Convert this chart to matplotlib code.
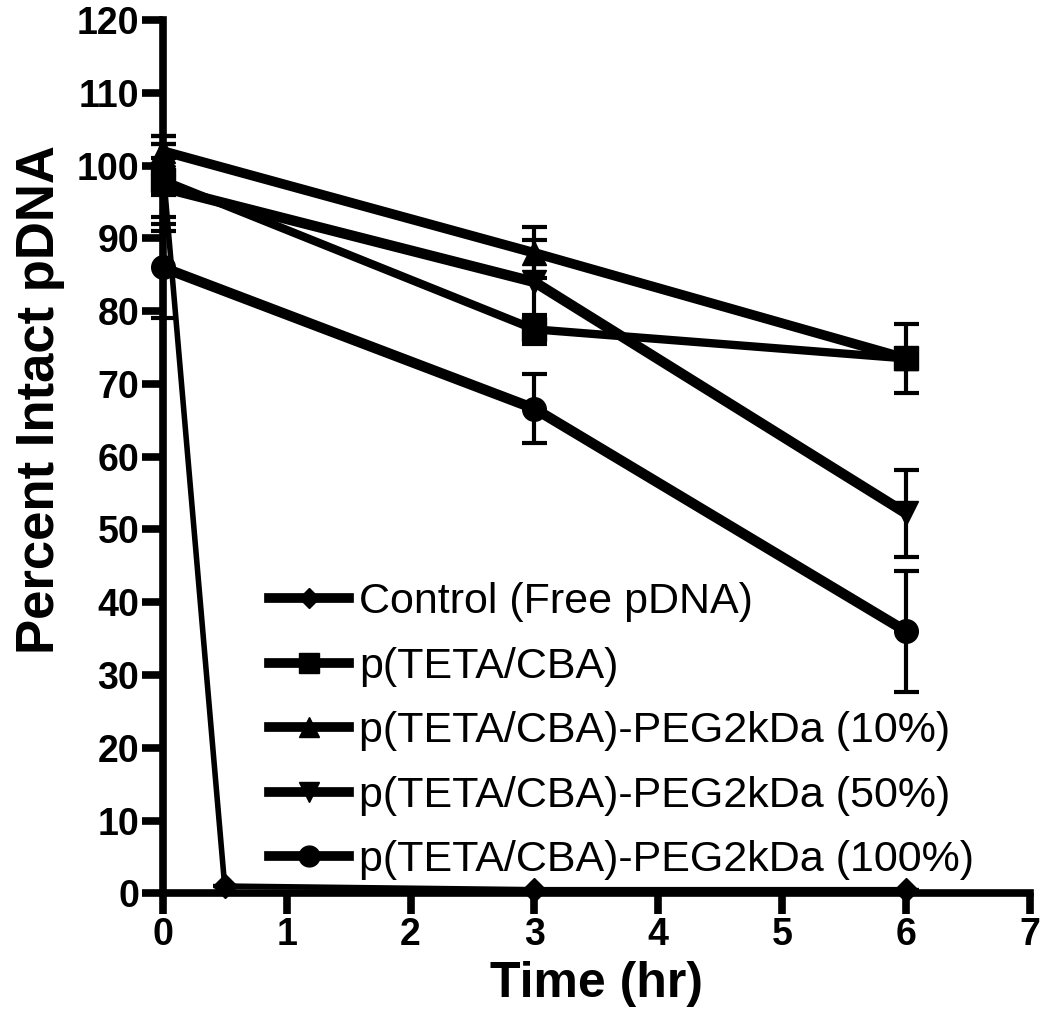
import numpy as np
import matplotlib
matplotlib.use("Agg")
import matplotlib.pyplot as plt

plt.rcParams['font.family'] = ['Liberation Sans', 'DejaVu Sans']

# data
t_ctrl = [0, 0.5, 3, 6]
ctrl = [100, 1, 0.5, 0.5]
ctrl_err = [4, 0, 0, 0]

t = [0, 3, 6]
teta = [98, 77.5, 73.5]
teta_err = [6, 2, 4.75]
peg10 = [102, 88, 73.5]
peg10_err = [1, 3.5, 0]
peg50 = [97, 84, 52.2]
peg50_err = [6, 5.8, 6]
peg100 = [86, 66.6, 36]
peg100_err = [7, 4.7, 8.3]

labels = ["Control (Free pDNA)", "p(TETA/CBA)", "p(TETA/CBA)-PEG2kDa (10%)",
          "p(TETA/CBA)-PEG2kDa (50%)", "p(TETA/CBA)-PEG2kDa (100%)"]

fig = plt.figure(figsize=(10.5, 10.28), dpi=100)
ax = fig.add_axes([0.155, 0.131, 0.826, 0.8495])

series = [
    (t_ctrl, ctrl, ctrl_err, 'D', 4, 12),
    (t, teta, teta_err, 's', 6, 17),
    (t, peg10, peg10_err, '^', 7, 17),
    (t, peg50, peg50_err, 'v', 7.5, 17),
    (t, peg100, peg100_err, 'o', 7.5, 17),
]
for (x, y, e, m, lw, ms), lab in zip(series, labels):
    ax.errorbar(x, y, yerr=e, color='black', marker=m, markersize=ms, lw=lw,
                elinewidth=3, capsize=9, capthick=3, clip_on=False, zorder=3)
    ax.plot([], [], color='black', marker=m, markersize=ms - 2, lw=7, label=lab)

ax.set_xlim(0, 7)
ax.set_ylim(0, 120)
ax.set_xticks(range(0, 8))
ax.set_yticks(range(0, 121, 10))
for s in ['top', 'right']:
    ax.spines[s].set_visible(False)
for s in ['left', 'bottom']:
    ax.spines[s].set_linewidth(5.5)
ax.tick_params(width=5.5, length=15, labelsize=27, pad=2)
for lbl in ax.get_xticklabels() + ax.get_yticklabels():
    lbl.set_fontweight('bold')

ax.set_xlabel("Time (hr)", fontsize=36, fontweight='bold', labelpad=6)
ax.set_ylabel("Percent Intact pDNA", fontsize=38, fontweight='bold')
ax.yaxis.set_label_coords(-0.113, 0.565)

ax.legend(loc='lower left', bbox_to_anchor=(0.088, -0.0195), frameon=False,
          fontsize=31, handlelength=1.86, labelspacing=0.57, handletextpad=0.23,
          borderaxespad=0.3)

fig.savefig("out.png", dpi=100)
